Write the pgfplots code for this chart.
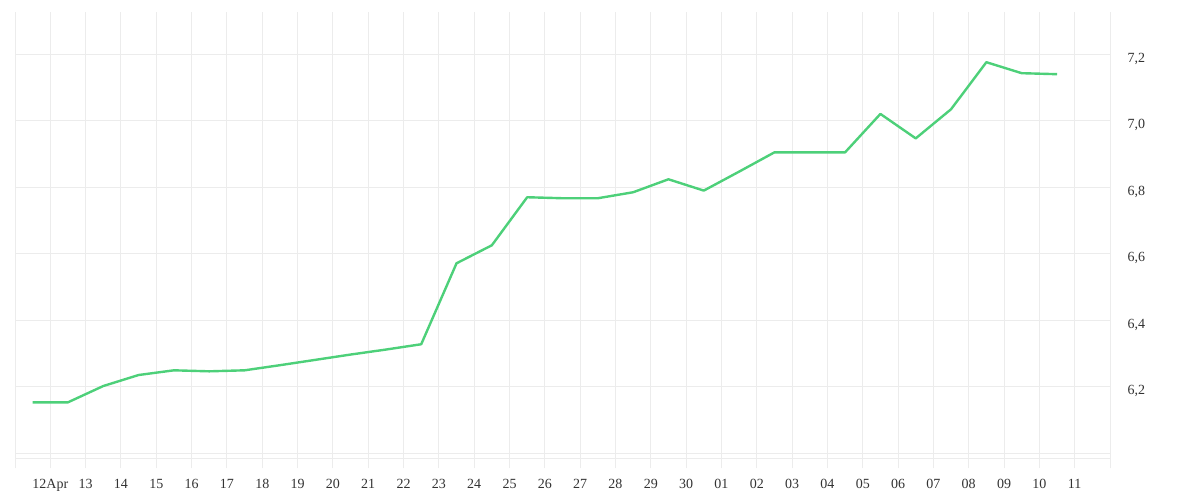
\documentclass[border=0pt]{standalone}
\usepackage{pgfplots}
\pgfplotsset{compat=1.18}
\usepackage{fontspec}
\setmainfont{Liberation Serif}
\definecolor{gridc}{RGB}{236,236,236}
\definecolor{linec}{RGB}{77,208,121}
\definecolor{txt}{RGB}{51,51,51}
\begin{document}
\begin{tikzpicture}
\path[use as bounding box] (0,0) rectangle (1200pt,500pt);
\begin{axis}[
  at={(15pt,31.7pt)}, anchor=south west,
  scale only axis, width=1095pt, height=456.3pt,
  xmin=-1, xmax=30, ymin=5.955, ymax=7.327,
  axis line style={draw=none},
  major tick length=0pt,
  grid=major, grid style={gridc, line width=1pt},
  xtick={0,...,29},
  xticklabels={12Apr,13,14,15,16,17,18,19,20,21,22,23,24,25,26,27,28,29,30,01,02,03,04,05,06,07,08,09,10,11},
  extra x ticks={-1,30}, extra x tick labels={},
  ytick={6.2,6.4,6.6,6.8,7.0,7.2},
  extra y ticks={6.0,5.984}, extra y tick labels={},
  yticklabel pos=right,
  /pgf/number format/.cd, use comma, fixed, fixed zerofill, precision=1, assume math mode=true,
  /pgfplots/.cd,
  ticklabel style={font=\fontsize{14}{16}\selectfont, text=txt},
  xticklabel style={yshift=-7pt},
  yticklabel style={xshift=14pt, yshift=-4.5pt},
]
\addplot[linec, line width=2.4pt, line join=round] coordinates {
(-0.5,6.1534) (0.5,6.1534) (1.5,6.2024) (2.5,6.2355) (3.5,6.2496) (4.5,6.2466) (5.5,6.2496)
(6.5,6.265) (7.5,6.281) (8.5,6.297) (9.5,6.312) (10.5,6.328)
(11.5,6.5714) (12.5,6.6256) (13.5,6.770) (14.5,6.767) (15.5,6.767) (16.5,6.785) (17.5,6.824)
(18.5,6.790) (19.5,6.847) (20.5,6.905) (21.5,6.905) (22.5,6.905) (23.5,7.0205) (24.5,6.947)
(25.5,7.0346) (26.5,7.176) (27.5,7.143) (28.5,7.140)
};
\end{axis}
\end{tikzpicture}
\end{document}
